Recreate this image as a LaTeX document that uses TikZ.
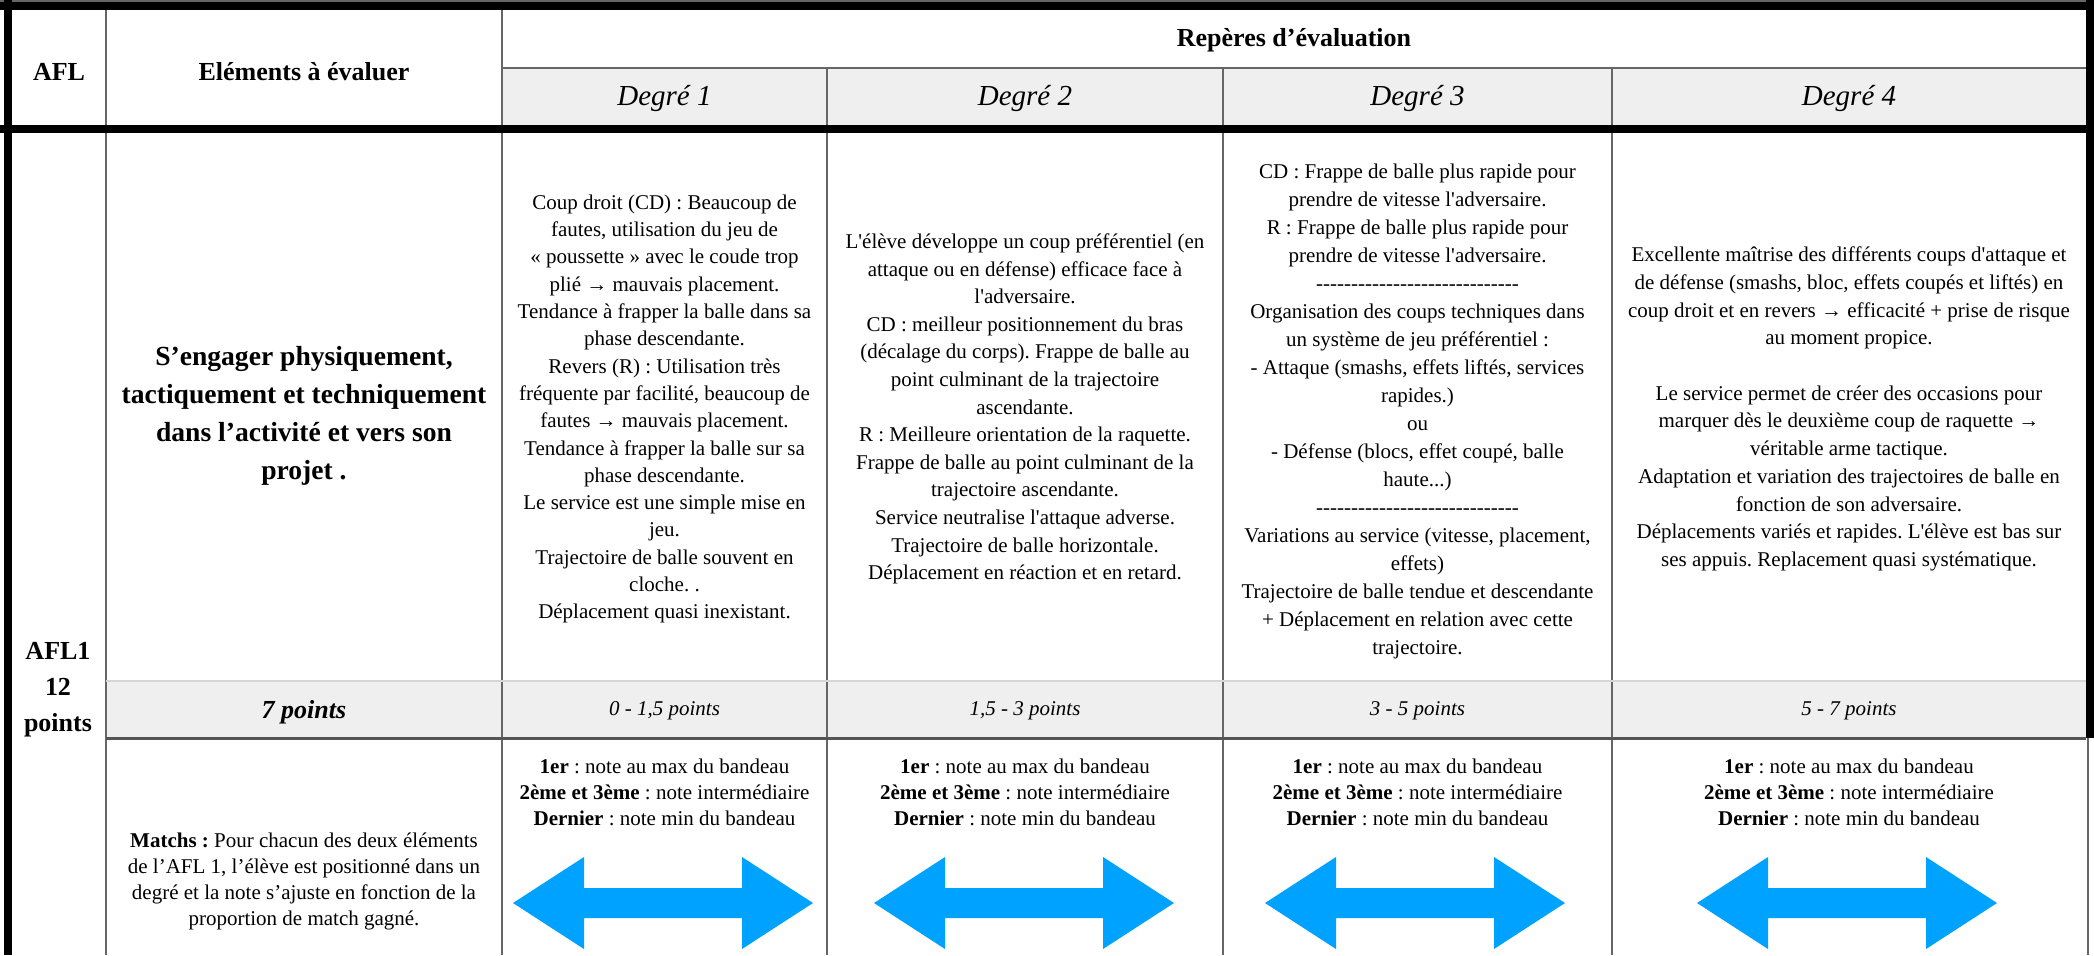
\documentclass[tikz,border=0pt]{standalone}
\usepackage{fontspec}
\setmainfont{Liberation Serif}[Ligatures=TeXOff]
\definecolor{gridgray}{RGB}{102,102,102}
\definecolor{bandgray}{RGB}{239,239,239}
\definecolor{lightline}{RGB}{214,214,214}
\definecolor{darkline}{RGB}{85,85,85}
\definecolor{arrowblue}{RGB}{0,162,255}
\begin{document}
\frenchspacing
\begin{tikzpicture}[x=0.5pt,y=-0.5pt,
  gridline/.style={draw=gridgray, line width=1pt},
  heavyline/.style={draw=black, line width=4pt},
  bodytext/.style={align=center, inner sep=0pt, font=\fontsize{10.5}{13.8}\selectfont},
  notetext/.style={align=center, inner sep=0pt, font=\fontsize{10.5}{13}\selectfont},
  headtext/.style={align=center, inner sep=0pt, font=\fontsize{13}{17.5}\selectfont\bfseries},
  degtext/.style={inner sep=0pt, font=\fontsize{14.5}{17}\selectfont\itshape},
  ptstext/.style={inner sep=0pt, font=\fontsize{10.5}{13}\selectfont\itshape},
  arrowfill/.style={fill=arrowblue},
]
\useasboundingbox (0,0) rectangle (2094,955);
\fill[white] (0,0) rectangle (2094,955);
% background bands
\fill[bandgray] (502,67.7) rectangle (2086,125);
\fill[bandgray] (106,681) rectangle (2086,738);
% thin grid lines
\draw[gridline, line width=0.75pt] (0,0.8) -- (2094,0.8);
\draw[gridline] (106,0) -- (106,955);
\draw[gridline] (502,0) -- (502,955);
\draw[gridline] (827,67.7) -- (827,955);
\draw[gridline] (1223,67.7) -- (1223,955);
\draw[gridline] (1612,67.7) -- (1612,955);
\draw[gridline] (502,67.7) -- (2086,67.7);
\draw[draw=lightline, line width=1pt] (106,681) -- (2086,681);
\draw[draw=darkline, line width=1.5pt] (106,738) -- (2086,738);
\draw[gridline] (2087.5,738) -- (2087.5,955);
% heavy borders
\draw[heavyline] (0,6.3) -- (2094,6.3);
\draw[heavyline] (8,0) -- (8,955);
\draw[heavyline] (2090,0) -- (2090,738);
\draw[heavyline] (0,129) -- (2094,129);
% header
\node[headtext] (hafl) at (59,72) {AFL};
\node[headtext] (helem) at (304,72) {Eléments à évaluer};
\node[headtext] (hrep) at (1294,40) {Repères d’évaluation};
\node[degtext] (deg1) at (664.5,99) {Degré 1};
\node[degtext] (deg2) at (1025,99) {Degré 2};
\node[degtext] (deg3) at (1417.5,99) {Degré 3};
\node[degtext] (deg4) at (1849,99) {Degré 4};
% AFL column
\node[headtext, font=\fontsize{13}{18}\selectfont\bfseries] (afl1) at (58,690) {AFL1\\12\\points};
% elements
\node[headtext, font=\fontsize{13.8}{19}\selectfont\bfseries] (elem) at (304,416) {S’engager physiquement,\\tactiquement et techniquement\\dans l’activité et vers son\\projet .};
% degree descriptions
\node[bodytext, font=\fontsize{10.5}{13.65}\selectfont] (txt1) at (664.5,409) {Coup droit (CD) : Beaucoup de\\fautes, utilisation du jeu de\\« poussette » avec le coude trop\\plié → mauvais placement.\\Tendance à frapper la balle dans sa\\phase descendante.\\Revers (R) : Utilisation très\\fréquente par facilité, beaucoup de\\fautes → mauvais placement.\\Tendance à frapper la balle sur sa\\phase descendante.\\Le service est une simple mise en\\jeu.\\Trajectoire de balle souvent en\\cloche. .\\Déplacement quasi inexistant.};
\node[bodytext] (txt2) at (1025,409) {L'élève développe un coup préférentiel (en\\attaque ou en défense) efficace face à\\l'adversaire.\\CD : meilleur positionnement du bras\\(décalage du corps). Frappe de balle au\\point culminant de la trajectoire\\ascendante.\\R : Meilleure orientation de la raquette.\\Frappe de balle au point culminant de la\\trajectoire ascendante.\\Service neutralise l'attaque adverse.\\Trajectoire de balle horizontale.\\Déplacement en réaction et en retard.};
\node[bodytext, font=\fontsize{10.5}{14}\selectfont] (txt3) at (1417.5,411) {CD : Frappe de balle plus rapide pour\\prendre de vitesse l'adversaire.\\R : Frappe de balle plus rapide pour\\prendre de vitesse l'adversaire.\\-----------------------------\\Organisation des coups techniques dans\\un système de jeu préférentiel :\\- Attaque (smashs, effets liftés, services\\rapides.)\\ou\\- Défense (blocs, effet coupé, balle\\haute...)\\-----------------------------\\Variations au service (vitesse, placement,\\effets)\\Trajectoire de balle tendue et descendante\\+ Déplacement en relation avec cette\\trajectoire.};
\node[bodytext, font=\fontsize{10.5}{13.85}\selectfont] (txt4) at (1849,409) {Excellente maîtrise des différents coups d'attaque et\\de défense (smashs, bloc, effets coupés et liftés) en\\coup droit et en revers → efficacité + prise de risque\\au moment propice.\\[13.85pt]Le service permet de créer des occasions pour\\marquer dès le deuxième coup de raquette →\\véritable arme tactique.\\Adaptation et variation des trajectoires de balle en\\fonction de son adversaire.\\Déplacements variés et rapides. L'élève est bas sur\\ses appuis. Replacement quasi systématique.};
% points row
\node[inner sep=0pt, font=\fontsize{13}{16}\selectfont\bfseries\itshape] (pts0) at (304,712) {7 points};
\node[ptstext] (pts1) at (664.5,711) {0 - 1,5 points};
\node[ptstext] (pts2) at (1025,711) {1,5 - 3 points};
\node[ptstext] (pts3) at (1417.5,711) {3 - 5 points};
\node[ptstext] (pts4) at (1849,711) {5 - 7 points};
% bottom row
\node[notetext] (matchs) at (304,881) {\textbf{Matchs :} Pour chacun des deux éléments\\de l’AFL 1, l’élève est positionné dans un\\degré et la note s’ajuste en fonction de la\\proportion de match gagné.};
\node[notetext] (note1) at (664.5,792) {\textbf{1er} : note au max du bandeau\\\textbf{2ème et 3ème} : note intermédiaire\\\textbf{Dernier} : note min du bandeau};
\node[notetext] (note2) at (1025,792) {\textbf{1er} : note au max du bandeau\\\textbf{2ème et 3ème} : note intermédiaire\\\textbf{Dernier} : note min du bandeau};
\node[notetext] (note3) at (1417.5,792) {\textbf{1er} : note au max du bandeau\\\textbf{2ème et 3ème} : note intermédiaire\\\textbf{Dernier} : note min du bandeau};
\node[notetext] (note4) at (1849,792) {\textbf{1er} : note au max du bandeau\\\textbf{2ème et 3ème} : note intermédiaire\\\textbf{Dernier} : note min du bandeau};
% double arrows
\coordinate (arr1) at (663,903);
\coordinate (arr2) at (1024,903);
\coordinate (arr3) at (1415,903);
\coordinate (arr4) at (1847,903);
\foreach \a in {arr1,arr2,arr3,arr4}{
  \fill[arrowfill, shift={(\a)}] (-150,0) -- (-79,-46) -- (-79,-15) -- (79,-15) -- (79,-46) -- (150,0) -- (79,46) -- (79,15) -- (-79,15) -- (-79,46) -- cycle;
}
\end{tikzpicture}
\end{document}
